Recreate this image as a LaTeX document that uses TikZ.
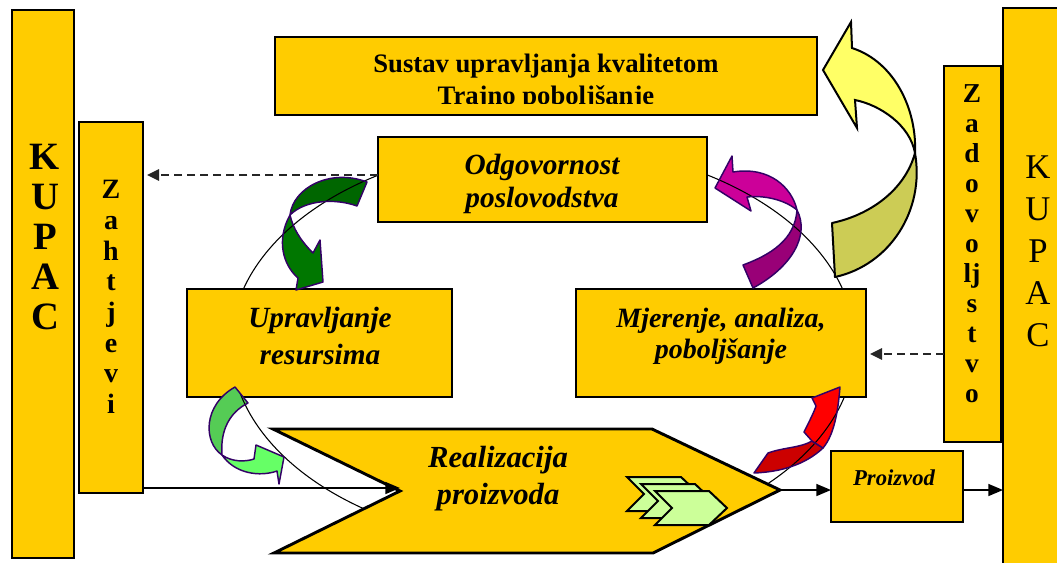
\documentclass[tikz,border=0pt]{standalone}
\usepackage{fontspec}
\setmainfont{Liberation Serif}
\usetikzlibrary{arrows.meta}
\definecolor{gold}{HTML}{FFCC00}
\definecolor{ylw}{HTML}{FFFF66}
\definecolor{olv}{HTML}{CCCC55}
\definecolor{magA}{HTML}{CC0099}
\definecolor{magB}{HTML}{990077}
\definecolor{dgA}{HTML}{006600}
\definecolor{dgB}{HTML}{007700}
\definecolor{lgA}{HTML}{55CC55}
\definecolor{lgB}{HTML}{66FF66}
\definecolor{redA}{HTML}{FF0000}
\definecolor{redB}{HTML}{CC0000}
\definecolor{chevfill}{HTML}{CCFF99}
\definecolor{edgecol}{HTML}{330066}
\newcommand\ringpath{(543,345) ellipse [x radius=312, y radius=200]}
\newcommand\pathYelU{(915,153) .. controls (917,110) and (895,62) .. (852,48) -- (851,22) -- (823,70) -- (857,128) -- (855,100) .. controls (880,105) and (910,125) .. (915,153) -- cycle}
\newcommand\pathYelL{(915,153) .. controls (905,190) and (870,215) .. (832,223) -- (835,277) .. controls (890,265) and (925,210) .. (915,153) -- cycle}
\newcommand\pathRedU{(812,441) -- (804,432) .. controls (810,420) and (814,412) .. (816,406) -- (812,398) -- (840,387) .. controls (838,412) and (834,435) .. (823,448) -- cycle}
\newcommand\pathRedL{(754,473) -- (768,453) .. controls (785,447) and (800,448) .. (812,441) -- (823,448) .. controls (805,465) and (780,472) .. (754,473) -- cycle}
\newcommand\pathDgU{(367,182) .. controls (330,168) and (293,188) .. (290,215) .. controls (305,200) and (335,198) .. (357,206) -- cycle}
\newcommand\pathDgL{(290,215) .. controls (276,240) and (283,265) .. (298,278) -- (296,290) -- (323,282) -- (320,240) -- (313,253) .. controls (300,240) and (293,228) .. (290,215) -- cycle}
\newcommand\pathLgU{(235,387) .. controls (203,405) and (203,442) .. (222,455) .. controls (220,430) and (230,412) .. (248,403) -- cycle}
\newcommand\pathLgL{(222,455) .. controls (232,462) and (245,462) .. (254,459) -- (256,445) -- (284,457) -- (279,484) -- (277,471) .. controls (260,477) and (235,474) .. (222,455) -- cycle}
\newcommand\pathMagU{(733,172) -- (732,156) -- (715,188) -- (751,211) -- (747,197) .. controls (765,195) and (785,200) .. (797,210) .. controls (792,188) and (770,166) .. (733,172) -- cycle}
\newcommand\pathMagL{(797,210) .. controls (810,235) and (792,267) .. (753,288) -- (743,265) .. controls (770,255) and (795,240) .. (797,210) -- cycle}
\newcommand\smallchev[2]{\draw[draw=black, line width=1.5pt, fill=chevfill, line join=miter] (#1,#2) -- ++(54,0) -- ++(18,17) -- ++(-18,17) -- ++(-54,0) -- ++(17,-17) -- cycle;}
\tikzset{
 box/.style={draw=black, line width=2.2pt, fill=gold, inner sep=0pt, outer sep=0pt},
 lbl/.style={inner sep=0pt, align=center, text=black},
 twist/.style={draw=edgecol, line width=1.1pt, line join=round},
 ring/.style={draw=black, line width=0.8pt},
 link/.style={draw=black, line width=1.1pt, -{Triangle[length=11pt,width=9pt]}},
 dlink/.style={draw=black!85, line width=1.4pt, dash pattern=on 6pt off 3.8pt, -{Triangle[length=9pt,width=8.5pt]}},
}
\begin{document}
\begin{tikzpicture}[x=0.75pt,y=-0.75pt]
\useasboundingbox (0,0) rectangle (1057,562);
% ring
\draw[ring] \ringpath;
% boxes
\node[box, minimum width=46.5pt, minimum height=411pt] (kupacL) at (43,284) {};
\node[box, minimum width=48pt, minimum height=278.25pt] (zaht) at (111,307.5) {};
\node[box, minimum width=406.5pt, minimum height=58.5pt] (sustav) at (546,76) {};
\node[box, minimum width=246.75pt, minimum height=63.75pt] (odg) at (542.5,179.5) {};
\node[box, minimum width=198.75pt, minimum height=81pt] (upr) at (319.5,343) {};
\node[box, minimum width=217.5pt, minimum height=81pt] (mje) at (721,343) {};
\node[box, minimum width=42.75pt, minimum height=282pt] (zad) at (972.5,254) {};
\node[box, minimum width=46.5pt, minimum height=421.5pt] (kupacR) at (1034,289) {};
\node[box, minimum width=99pt, minimum height=53.25pt] (proiz) at (897,486.5) {};
% chevron
\draw[box, line join=miter] (273,429) -- (652,429) -- (780,490) -- (653,553) -- (274,553) -- (400,491) -- cycle;
\coordinate (notch) at (400,490);
\coordinate (tip) at (780,490);
\smallchev{627}{477}
\smallchev{641}{484}
\smallchev{655}{491}
% texts
\node[lbl, font=\fontsize{29}{30}\selectfont\bfseries] (kupacLt) at (45,237) {K\\U\\P\\A\\C};
\node[lbl, font=\fontsize{26}{31.5}\selectfont] (kupacRt) at (1038,251) {K\\U\\P\\A\\C};
\node[lbl, font=\fontsize{21}{23}\selectfont\bfseries] (zahtt) at (111,297) {Z\\a\\h\\t\\j\\e\\v\\i};
\node[lbl, font=\fontsize{20.5}{22.5}\selectfont\bfseries] (zadt) at (972,243.5) {Z\\a\\d\\o\\v\\o\\lj\\s\\t\\v\\o};
\begin{scope}
\clip (275,37) rectangle (817,103.5);
\node[lbl, font=\fontsize{20}{24}\selectfont\bfseries] (sustavt) at (546,82) {Sustav upravljanja kvalitetom\\Trajno poboljšanje};
\end{scope}
\node[lbl, font=\fontsize{22}{25}\selectfont\bfseries\itshape] (odgt) at (542,184) {Odgovornost\\poslovodstva};
\node[lbl, font=\fontsize{22}{27.75}\selectfont\bfseries\itshape] (uprt) at (320,336) {Upravljanje\\resursima};
\node[lbl, font=\fontsize{21}{23.25}\selectfont\bfseries\itshape] (mjet) at (721,336) {Mjerenje, analiza,\\poboljšanje};
\node[lbl, font=\fontsize{23}{27.75}\selectfont\bfseries\itshape] (realt) at (498,479) {Realizacija\\proizvoda};
\node[lbl, anchor=base, font=\fontsize{17}{20}\selectfont\bfseries\itshape] (proizt) at (894,485) {Proizvod};
% small twisted arrows
\fill[dgA] \pathDgU; \begin{scope}\clip \pathDgU; \draw[ring] \ringpath; \end{scope} \draw[twist] \pathDgU;
\fill[dgB] \pathDgL; \begin{scope}\clip \pathDgL; \draw[ring] \ringpath; \end{scope} \draw[twist] \pathDgL;
\fill[lgA] \pathLgU; \begin{scope}\clip \pathLgU; \draw[ring] \ringpath; \end{scope} \draw[twist] \pathLgU;
\fill[lgB] \pathLgL; \begin{scope}\clip \pathLgL; \draw[ring] \ringpath; \end{scope} \draw[twist] \pathLgL;
\fill[magB] \pathMagL; \begin{scope}\clip \pathMagL; \draw[ring] \ringpath; \end{scope} \draw[twist] \pathMagL;
\fill[magA] \pathMagU; \begin{scope}\clip \pathMagU; \draw[ring] \ringpath; \end{scope} \draw[twist] \pathMagU;
\fill[redB] \pathRedL; \begin{scope}\clip \pathRedL; \draw[ring] \ringpath; \end{scope} \draw[twist] \pathRedL;
\fill[redA] \pathRedU; \begin{scope}\clip \pathRedU; \draw[ring] \ringpath; \end{scope} \draw[twist] \pathRedU;
% big yellow arrow
\draw[fill=olv, draw=black, line width=1.5pt, line join=round] \pathYelL;
\draw[fill=ylw, draw=black, line width=1.5pt, line join=miter] \pathYelU;
% connectors
\coordinate (dA) at ([yshift=3.4pt]odg.west);
\draw[dlink, shorten >=3pt] (dA) -- (dA -| zaht.east);
\coordinate (dB) at ([yshift=-8.25pt]mje.east);
\draw[dlink, shorten >=3pt] (dB -| zad.west) -- (dB);
\coordinate (zo) at ([yshift=3.75pt]zaht.south east);
\draw[link] (zo) -- (zo -| notch);
\draw[link] (tip) -- (tip -| proiz.west);
\draw[link] (tip -| proiz.east) -- (tip -| kupacR.west);
\end{tikzpicture}
\end{document}
